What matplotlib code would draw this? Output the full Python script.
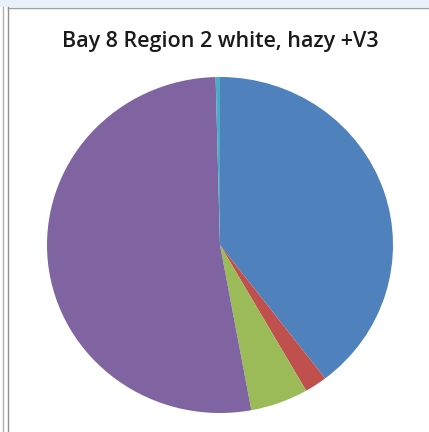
import matplotlib
matplotlib.use("Agg")
import matplotlib.pyplot as plt
from matplotlib.patches import Rectangle
from matplotlib.lines import Line2D

title = "Bay 8 Region 2 white, hazy +V3"
categories = ["A", "B", "C", "D", "E"]
values = [39.6, 2.1, 5.4, 52.5, 0.4]
colors = ["#4F81BD", "#C0504D", "#9BBB59", "#8064A2", "#4BACC6"]

W, H = 429, 432
fig = plt.figure(figsize=(W / 100, H / 100), dpi=100)
fig.patch.set_facecolor("white")

# frame decorations
fig.patches.append(Rectangle((0, 1 - 7 / H), 1, 7 / H, transform=fig.transFigure,
                             facecolor="#E8F1FA", edgecolor="none", zorder=0))
fig.lines.append(Line2D([8 / W, 1], [1 - 7.5 / H] * 2, transform=fig.transFigure,
                        color="#A0A0A0", lw=1))
for xx, c in [(2.5, "#B0B0B0"), (7.5, "#909090")]:
    fig.lines.append(Line2D([xx / W] * 2, [0, 1 - 7 / H], transform=fig.transFigure,
                            color=c, lw=1))

# pie axes
left, right, top, bottom = 47, 393, 77, 413
ax = fig.add_axes([left / W, 1 - bottom / H, (right - left) / W, (bottom - top) / H])
ax.pie(values, colors=colors, startangle=90, counterclock=False,
       wedgeprops=dict(linewidth=0, edgecolor="none"))
ax.set_aspect("auto")
ax.set_xlim(-1, 1)
ax.set_ylim(-1, 1)
ax.axis("off")

fig.text(220 / W, 1 - 41 / H, title, ha="center", va="center",
         fontsize=15.5, fontweight="semibold", family="Open Sans", color="#1A1A1A")

fig.savefig("out.png", dpi=100)
